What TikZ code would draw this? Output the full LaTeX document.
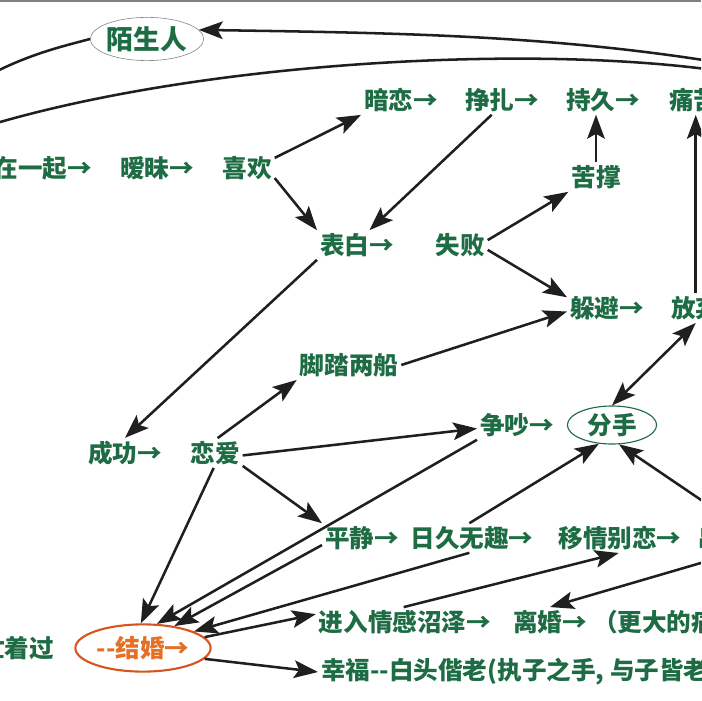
\documentclass[tikz,border=0pt]{standalone}
\usepackage{fontspec}
\newfontfamily\cjk{Noto Sans CJK SC}
\usetikzlibrary{positioning, arrows.meta, shapes.geometric}
\definecolor{leaf}{RGB}{30,108,68}
\definecolor{rust}{RGB}{214,84,32}
\definecolor{amber}{RGB}{228,112,40}

\begin{document}
\begin{tikzpicture}[
    x=0.025cm, y=-0.025cm,
    Stage/.style={text=leaf, font=\cjk\bfseries\fontsize{17.5}{20}\selectfont, inner sep=2pt},
    Ring/.style={Stage, ellipse, draw=leaf, thick, inner sep=0pt},
    Link/.style={-{Stealth[length=17pt, width=12.5pt, inset=3.5pt]}, line width=1.8pt, black!88},
    Both/.style={Link, {Stealth[length=17pt, width=12.5pt, inset=3.5pt]}-{Stealth[length=17pt, width=12.5pt, inset=3.5pt]}},
    Edge/.style={line width=1.8pt, black!88},
]
    \useasboundingbox (0,0) rectangle (701,701);
    \fill[white] (0,0) rectangle (701,701);
    \clip (0,0) rectangle (701,701);
    \draw[gray, line width=1.2pt] (0,1) -- (701,1);

    % Nodes
    \node[Ring, draw=gray, thin, minimum width=2.63cm, minimum height=1.08cm,
          font=\cjk\bfseries\fontsize{19}{22}\selectfont] (Str) at (147,39) {陌生人};
    \node[Stage, anchor=east] (Tog) at (95,168) {在一起→};
    \node[Stage] (Amb)   at (157,168) {暧昧→};
    \node[Stage] (Like)  at (247,168) {喜欢};
    \node[Stage] (Crush) at (401,100) {暗恋→};
    \node[Stage] (Strug) at (502,100) {挣扎→};
    \node[Stage] (Last)  at (603,100) {持久→};
    \node[Stage, anchor=west] (Pain) at (666,100) {痛苦};
    \node[Stage] (Bear)  at (596,177) {苦撑};
    \node[Stage] (Conf)  at (357,245) {表白→};
    \node[Stage] (Fail)  at (460,245) {失败};
    \node[Stage] (Avoid) at (607,308) {躲避→};
    \node[Stage, anchor=west] (Give) at (668,308) {放弃};
    \node[Stage] (Two)   at (349,365) {脚踏两船};
    \node[Stage] (Succ)  at (125,453) {成功→};
    \node[Stage] (Love)  at (215,453) {恋爱};
    \node[Stage] (Quar)  at (517,425) {争吵→};
    \node[Ring, minimum width=2.23cm, minimum height=0.95cm] (Break) at (612,425) {分手};
    \node[Stage] (Calm)  at (362,538) {平静→};
    \node[Stage] (Bore)  at (472,538) {日久无趣→};
    \node[Stage] (Shift) at (620,538) {移情别恋→};
    \node[Stage, anchor=west] (Next) at (695,538) {出轨→};
    \node[Stage] (Swamp) at (405,622) {进入情感沼泽→};
    \node[Stage] (Div)   at (550,622) {离婚→};
    \node[Stage, anchor=west] (Worse) at (590,622) {（更大的痛苦）};
    \node[Ring, draw=rust, text=amber, line width=1.5pt, minimum width=3.38cm, minimum height=1.18cm] (Wed) at (143,648) {-{}-结婚→};
    \node[Stage, anchor=east] (Busy) at (57,648) {忙着过};
    \node[Stage, anchor=west] (Happy) at (318,672) {幸福-{}-白头偕老(执子之手, 与子皆老)};

    % Lines
    \coordinate (RimL) at (-20,80);
    \coordinate (RimA) at (-20,128);
    \coordinate (RimB) at (740,74);
    \coordinate (RimC) at (740,66);
    \draw[Edge] (Str.west) .. controls (60,47) and (25,55) .. (RimL);
    \draw[Edge] (RimA) .. controls (200,60) and (550,42) .. (RimB);
    \draw[Link] (RimC) .. controls (560,35) and (400,33) .. (Str.10);

    \draw[Link] (Like.20) -- (Crush.south west);
    \draw[Link] (Like.-20) -- (Conf.north west);
    \draw[Link] (Strug.235) -- (Conf.50);
    \draw[Link] (Fail.10) -- (Bear.south west);
    \draw[Link] (Fail.-10) -- (Avoid.165);
    \draw[Link] (Bear.north) -- (Bear.north |- Last.south);
    \draw[Link] (Give.north) -- (Give.north |- Pain.south);
    \draw[Link] (Conf.south west) -- (Succ.north);
    \draw[Link] (Love.80) -- (Two.south west);
    \draw[Link] (Two.east) -- (Avoid.185);
    \draw[Link] (Love.-5) -- (Quar.185);
    \draw[Link] (Love.-25) -- (Calm.north west);
    \draw[Link] (Love.265) -- (Wed.95);
    \draw[Link] (Quar.south west) -- (Wed.60);
    \draw[Link] (Calm.190) -- (Wed.35);
    \draw[Link] (Bore.260) -- (Wed.18);
    \draw[Link] (Bore.100) -- (Break.235);
    \draw[Link] (Next.north) -- (Break.290);
    \draw[Link] (Next.south) -- (Div.north);
    \draw[Both] (Break.north) -- (Give.south);
    \draw[Link] (Swamp.95) -- (Shift.265);
    \draw[Link] (Wed.10) -- (Swamp.175);
    \draw[Link] (Wed.-10) -- (Happy.west);
\end{tikzpicture}
\end{document}
